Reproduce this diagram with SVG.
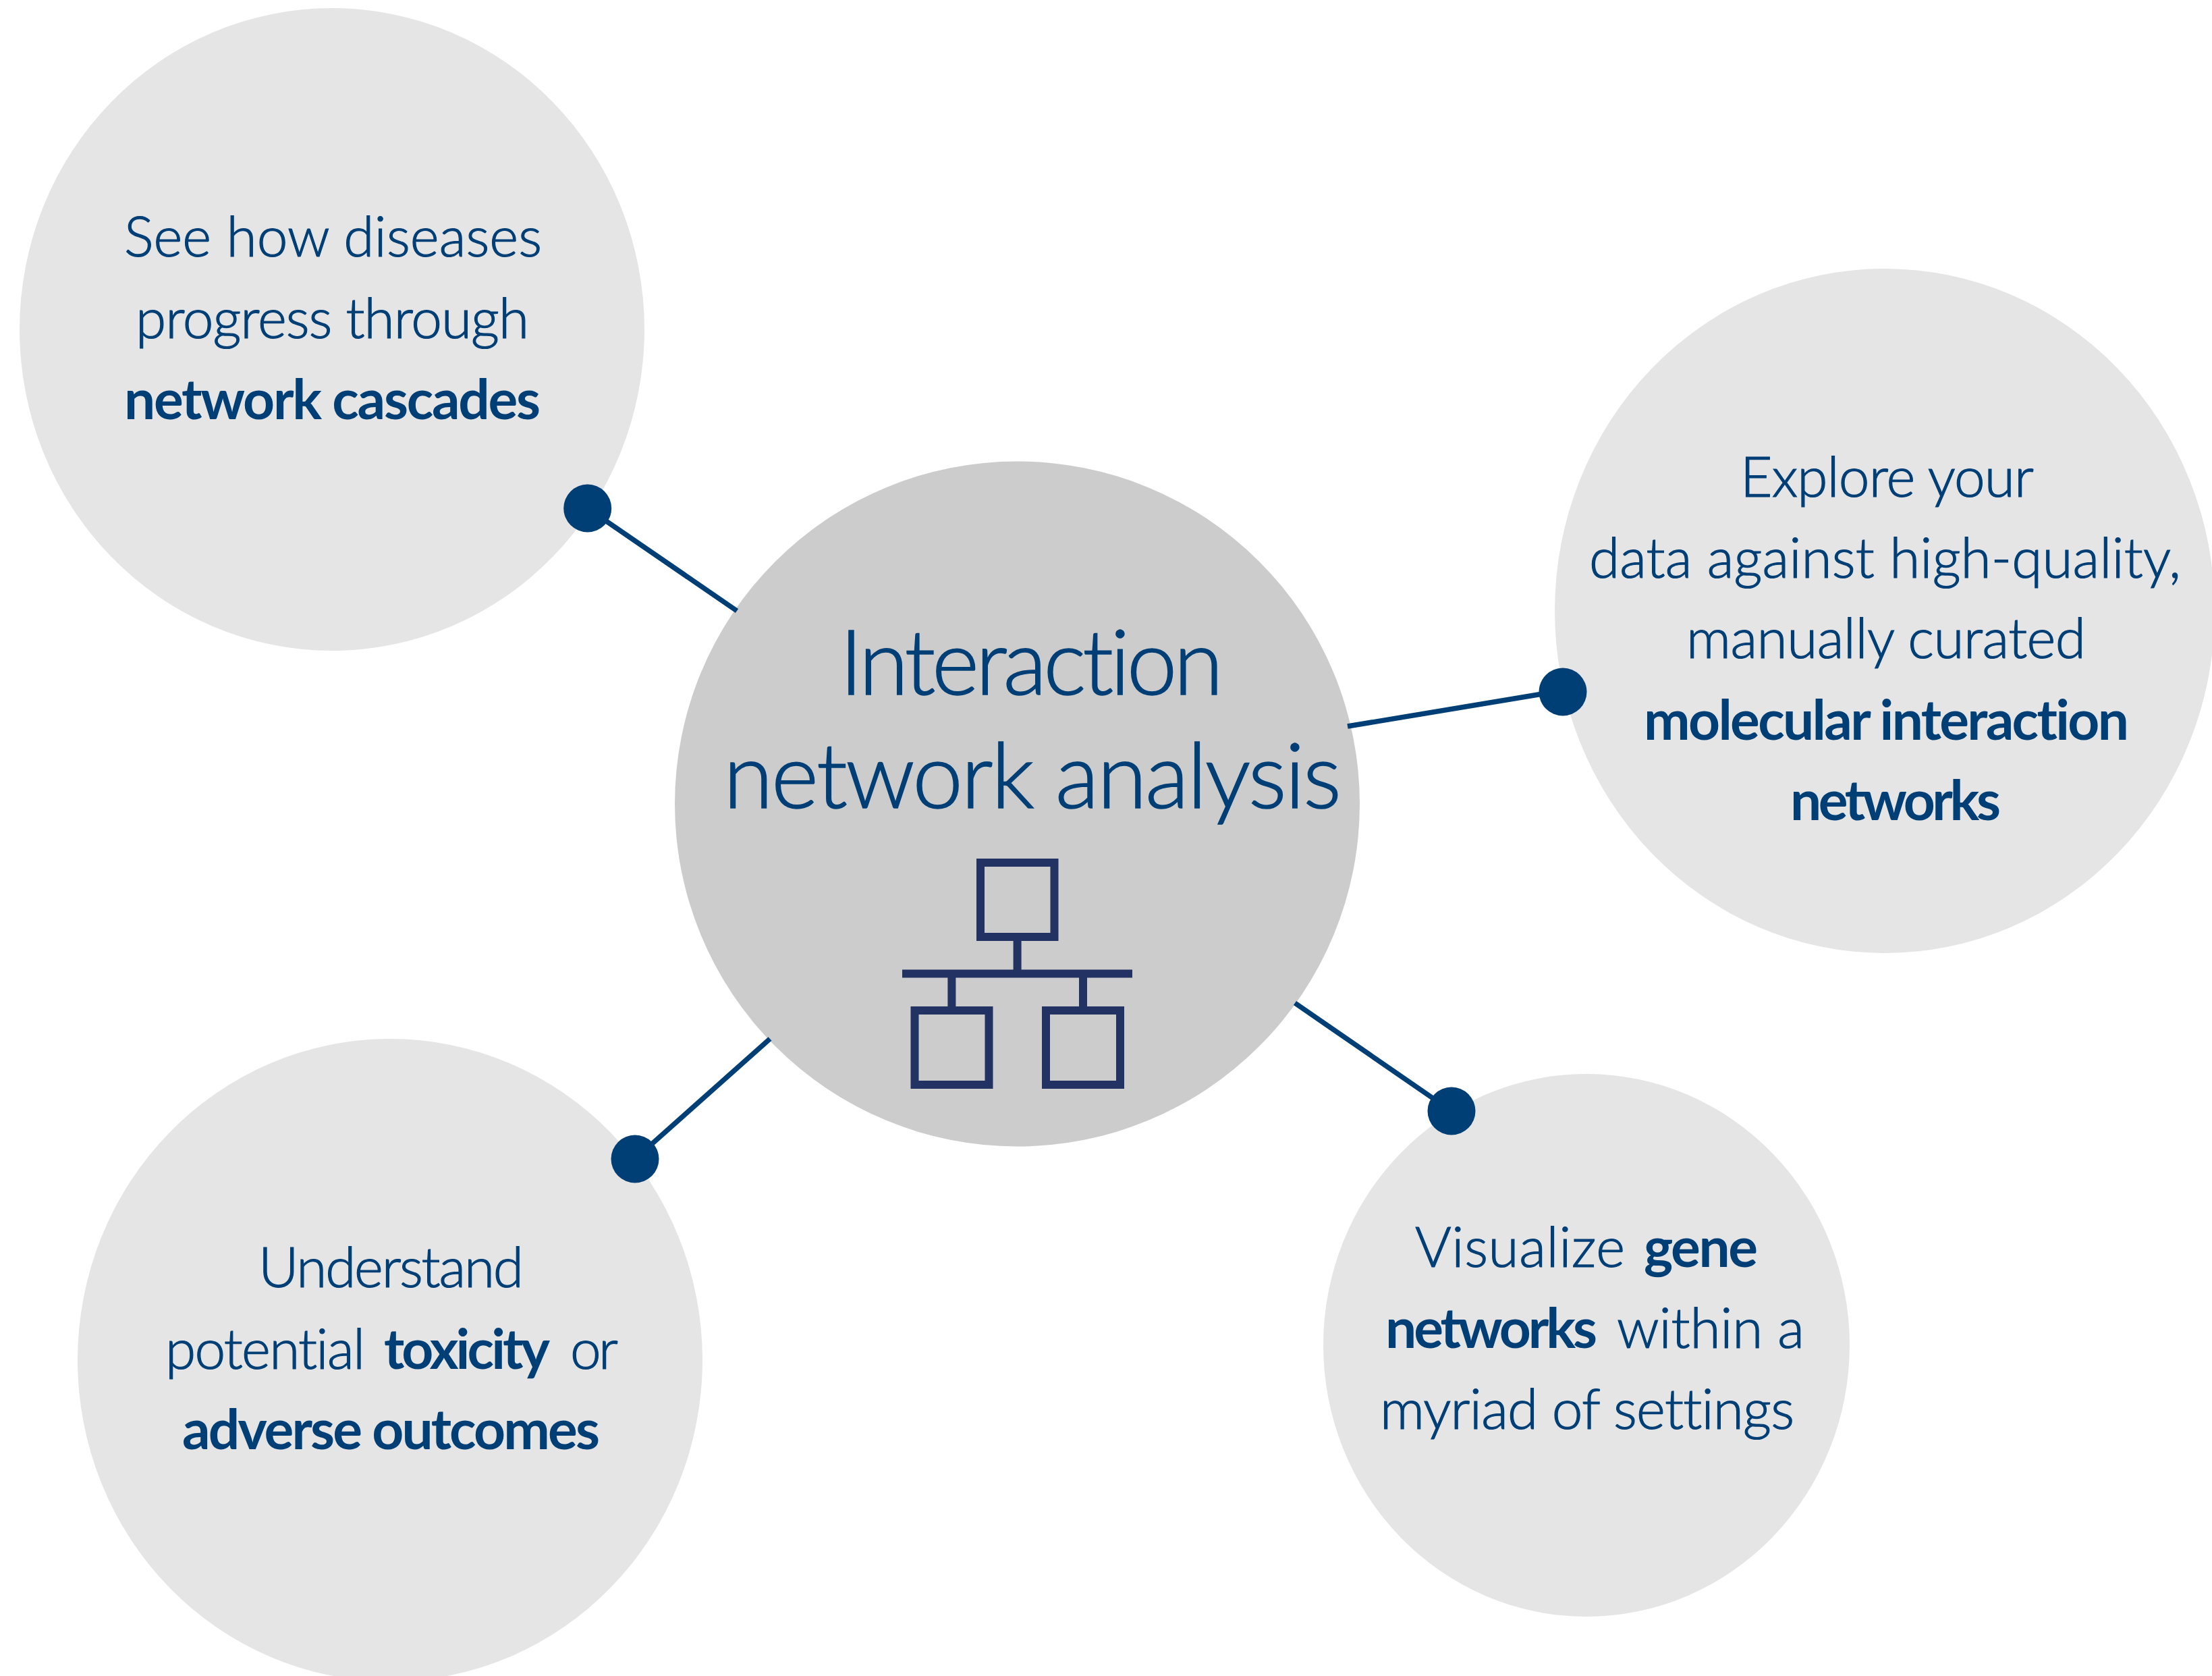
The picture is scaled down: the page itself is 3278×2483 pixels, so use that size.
<svg xmlns="http://www.w3.org/2000/svg" width="3278" height="2483" viewBox="0 0 3278 2483">
<style>
text{font-family:"Lato","Open Sans","Liberation Sans",sans-serif;fill:#003f76;stroke:#003f76;stroke-width:1.2px;font-weight:300;font-size:82px;font-variant-ligatures:none}
.b{font-weight:700;stroke-width:0}
.t{font-size:134px;stroke-width:1.6px}
.sat{fill:#e5e5e5}
.hub{fill:#cccccc}
.ico{fill:none;stroke:#223363;stroke-width:12}
.ln{stroke:#003f76;stroke-width:7.5;fill:none}
.dot{fill:#003f76}
</style>
<rect width="3278" height="2483" fill="#ffffff"/>
<g id="node-diseases">
<ellipse class="sat" cx="492" cy="488" rx="463" ry="476"/>
<text x="184" y="380" textLength="619">See how diseases</text>
<text x="201" y="501" textLength="583">progress through</text>
<text class="b" x="184" y="621" textLength="617">network cascades</text>
</g>
<g id="node-explore">
<ellipse class="sat" cx="2793" cy="905" rx="489" ry="507"/>
<text x="2579" y="736" textLength="435">Explore your</text>
<text x="2355" y="856" textLength="877">data against high-quality,</text>
<text x="2499" y="975" textLength="592">manually curated</text>
<text class="b" x="2436" y="1096" textLength="719">molecular interaction</text>
<text class="b" x="2653" y="1215" textLength="312">networks</text>
</g>
<g id="node-toxicity">
<ellipse class="sat" cx="578" cy="2015" rx="463" ry="476"/>
<text x="383" y="1907" textLength="393">Understand</text>
<text x="245" y="2028" textLength="296">potential</text>
<text class="b" x="569" y="2028" textLength="246">toxicity</text>
<text x="845" y="2028" textLength="71">or</text>
<text class="b" x="270" y="2147" textLength="619">adverse outcomes</text>
</g>
<g id="node-gene">
<ellipse class="sat" cx="2351" cy="1993" rx="390" ry="402"/>
<text x="2097" y="1877" textLength="311">Visualize</text>
<text class="b" x="2436" y="1877" textLength="169">gene</text>
<text class="b" x="2053" y="1997" textLength="314">networks</text>
<text x="2396" y="1997" textLength="278">within a</text>
<text x="2045" y="2117" textLength="614">myriad of settings</text>
</g>
<g id="node-hub">
<circle class="hub" cx="1507.500" cy="1191" r="507.500"/>
<text class="t" x="1244" y="1029" textLength="569">Interaction</text>
<text class="t" x="1072" y="1197" textLength="916">network analysis</text>
<g id="hub-icon">
<rect class="ico" x="1453" y="1278" width="109.500" height="110"/>
<rect class="ico" x="1355.500" y="1497" width="110" height="110"/>
<rect class="ico" x="1550" y="1497" width="110" height="110"/>
<path class="ico" d="M1507.600 1394V1442M1337 1442.500H1678M1410.400 1442V1491M1605 1442V1491"/>
</g>
</g>
<g id="connectors">
<line class="ln" x1="870.700" y1="753" x2="1092" y2="905"/>
<circle class="dot" cx="870.700" cy="753" r="35.500"/>
<line class="ln" x1="1997" y1="1076" x2="2316" y2="1023"/>
<circle class="dot" cx="2316" cy="1025" r="35.500"/>
<line class="ln" x1="1919" y1="1486" x2="2151" y2="1646"/>
<circle class="dot" cx="2151" cy="1646" r="35.500"/>
<line class="ln" x1="1141" y1="1539" x2="941" y2="1717"/>
<circle class="dot" cx="941" cy="1717" r="35.500"/>
</g>
</svg>
